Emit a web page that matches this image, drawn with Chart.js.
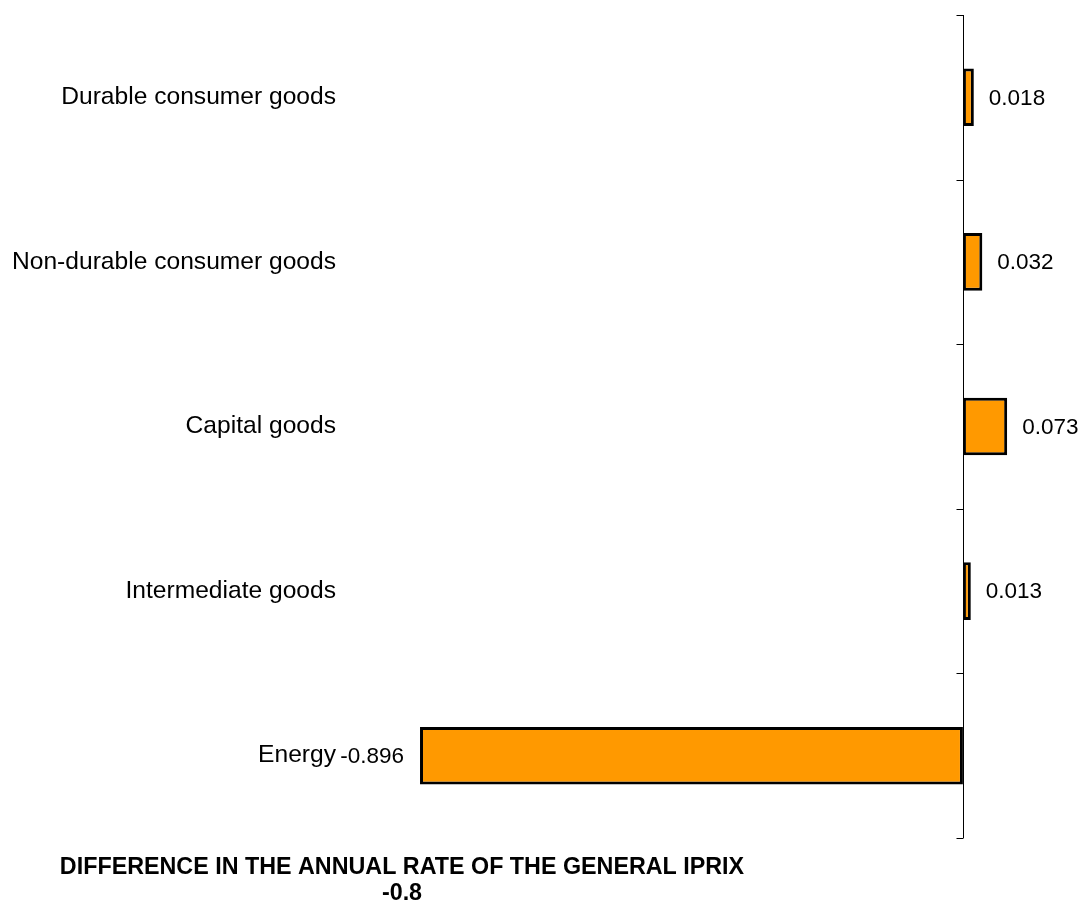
<!DOCTYPE html>
<html>
<head>
<meta charset="utf-8">
<script src="https://cdn.jsdelivr.net/npm/chart.js@4/dist/chart.umd.min.js"></script>
<style>
  html, body { margin: 0; padding: 0; background: #ffffff; }
  #wrap { position: relative; width: 1082px; height: 903px; }
</style>
</head>
<body>
<div id="wrap"><canvas id="c" width="1082" height="903"></canvas></div>
<script>
const categories = [
  'Durable consumer goods',
  'Non-durable consumer goods',
  'Capital goods',
  'Intermediate goods',
  'Energy'
];
const values = [0.018, 0.032, 0.073, 0.013, -0.896];
const valueLabels = ['0.018', '0.032', '0.073', '0.013', '-0.896'];
const titleLines = ['DIFFERENCE IN THE ANNUAL RATE OF THE GENERAL IPRIX', '-0.8'];

const FONT = "'Liberation Sans', Arial, sans-serif";

const axisPlugin = {
  id: 'zeroAxis',
  afterDatasetsDraw(chart) {
    const ctx = chart.ctx;
    const xs = chart.scales.x, ys = chart.scales.y;
    const area = chart.chartArea;
    const x0 = Math.round(xs.getPixelForValue(0)) + 0.5;
    ctx.save();
    ctx.strokeStyle = '#000';
    ctx.lineWidth = 1;
    ctx.beginPath();
    ctx.moveTo(x0, area.top);
    ctx.lineTo(x0, area.bottom);
    const step = ys.getPixelForValue(1) - ys.getPixelForValue(0);
    for (let i = 0; i <= categories.length; i++) {
      const y = Math.round(ys.getPixelForValue(i) - step / 2) + 0.5;
      ctx.moveTo(x0 - 7, y);
      ctx.lineTo(x0, y);
    }
    ctx.stroke();
    // value labels
    ctx.fillStyle = '#000';
    ctx.font = '22.5px ' + FONT;
    ctx.textBaseline = 'middle';
    const meta = chart.getDatasetMeta(0);
    meta.data.forEach((bar, i) => {
      const v = values[i];
      if (v >= 0) {
        ctx.textAlign = 'left';
        ctx.fillText(valueLabels[i], bar.x + 15, bar.y + 1);
      } else {
        ctx.textAlign = 'right';
        ctx.fillText(valueLabels[i], bar.x - 16, bar.y + 1);
      }
    });
    // bottom title
    ctx.font = 'bold 23.3px ' + FONT;
    ctx.textAlign = 'center';
    ctx.fillText(titleLines[0], 402, 868);
    ctx.fillText(titleLines[1], 402, 894);
    ctx.restore();
  }
};

new Chart(document.getElementById('c'), {
  type: 'bar',
  data: {
    labels: categories,
    datasets: [{
      data: values,
      backgroundColor: '#FF9900',
      borderColor: '#000000',
      borderWidth: 3,
      borderSkipped: false,
      categoryPercentage: 1,
      barPercentage: 0.35
    }]
  },
  options: {
    indexAxis: 'y',
    responsive: false,
    animation: false,
    devicePixelRatio: 1,
    layout: { padding: { top: 15, bottom: 65, left: 0, right: 10 } },
    plugins: { legend: { display: false }, tooltip: { enabled: false }, title: { display: false } },
    scales: {
      x: {
        display: false,
        min: -1.0,
        max: 0.18
      },
      y: {
        grid: { display: false, drawTicks: false },
        border: { display: false },
        ticks: {
          padding: 21,
          color: '#000',
          font: { family: FONT, size: 24.6 }
        },
        afterFit(scale) {
          scale.width = 357;
          scale.paddingTop = 0;
          scale.paddingBottom = 0;
        }
      }
    }
  },
  plugins: [axisPlugin]
});
</script>
</body>
</html>
